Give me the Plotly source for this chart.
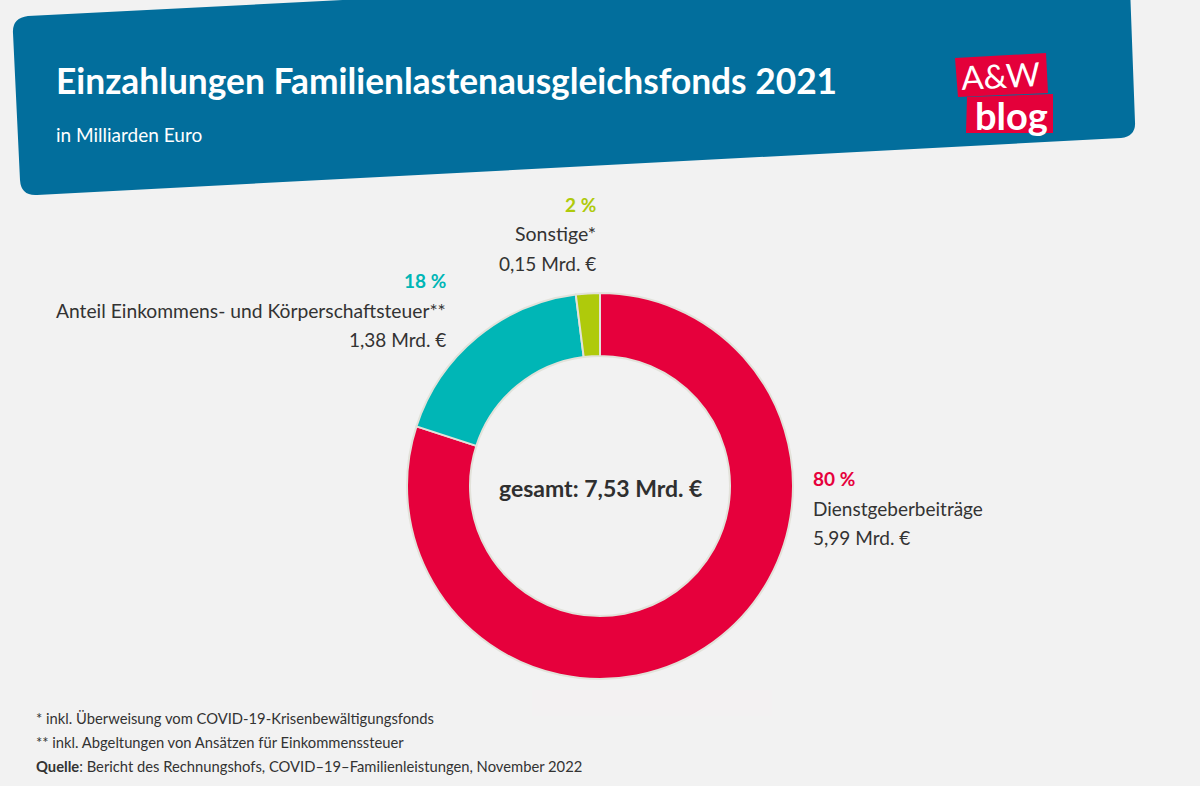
import plotly.graph_objects as go

W, H = 1200, 786
categories = ["Dienstgeberbeiträge", "Anteil Einkommens- und Körperschaftsteuer**", "Sonstige*"]
values = [80, 18, 2]
percent_labels = ["80 %", "18 %", "2 %"]
amount_labels = ["5,99 Mrd. €", "1,38 Mrd. €", "0,15 Mrd. €"]
colors = ["#e6003c", "#00b6b6", "#afca0b"]
title = "Einzahlungen Familienlastenausgleichsfonds 2021"
subtitle = "in Milliarden Euro"
center_text = "gesamt: 7,53 Mrd. €"
footnotes = ["* inkl. Überweisung vom COVID-19-Krisenbewältigungsfonds",
             "** inkl. Abgeltungen von Ansätzen für Einkommenssteuer",
             "<b>Quelle</b>: Bericht des Rechnungshofs, COVID–19–Familienleistungen, November 2022"]

FONT = "Lato"
DARK = "#333333"
BG = "#f2f2f2"
BLUE = "#026e9c"
RED = "#e4003a"

def X(p): return p / W
def Y(p): return 1 - p / H

fig = go.Figure()
fig.add_trace(go.Pie(
    labels=categories, values=values, sort=False, direction="clockwise", rotation=0,
    hole=130 / 193, textinfo="none", showlegend=False,
    marker=dict(colors=colors, line=dict(color="#e2e2da", width=2)),
    domain=dict(x=[X(407), X(793)], y=[Y(679), Y(293)]),
))

def pt(x, y):
    return f"{X(x):.5f},{Y(y):.5f}"

header = ("M" + pt(28, 16) + " L" + pt(1129, -40) + " L" + pt(1135, 122) +
          " Q" + pt(1136, 136) + " " + pt(1121, 138) +
          " L" + pt(37, 195) + " Q" + pt(21, 196) + " " + pt(20, 180) +
          " L" + pt(13, 33) + " Q" + pt(12, 18) + " " + pt(28, 16) + " Z")
shapes = [
    dict(type="path", xref="paper", yref="paper", path=header, fillcolor=BLUE, line_width=0, layer="below"),
    dict(type="path", xref="paper", yref="paper",
         path="M" + pt(955, 58) + " L" + pt(1046, 53) + " L" + pt(1048, 93) + " L" + pt(958, 97) + " Z",
         fillcolor=RED, line_width=0),
    dict(type="path", xref="paper", yref="paper",
         path="M" + pt(967, 97) + " L" + pt(1053, 94) + " L" + pt(1053, 133) + " L" + pt(966, 133) + " Z",
         fillcolor=RED, line_width=0),
    dict(type="rect", xref="paper", yref="paper", x0=X(532), x1=X(772), y0=Y(716), y1=Y(690),
         fillcolor="#f3f1f2", line_width=0, layer="below"),
]

def txt(x, y, text, size, color=DARK, anchor="left", bold=False, angle=0, family=FONT):
    s = f"<b>{text}</b>" if bold else text
    fig.add_annotation(x=X(x), y=Y(y), xref="paper", yref="paper", text=s, showarrow=False,
                       xanchor=anchor, yanchor="middle", align=anchor, textangle=angle,
                       font=dict(family=family, size=size, color=color),
                       borderpad=0, xshift=0)

txt(55, 80, title, 35.3, "white", bold=True)
txt(55, 134, subtitle, 19, "white")
txt(600, 488, center_text, 23, "#2f2f2f", "center", bold=True)

txt(812, 478, percent_labels[0], 19, colors[0], bold=True)
txt(812, 508, categories[0], 19)
txt(812, 537, amount_labels[0], 19)
txt(447, 280, percent_labels[1], 19, colors[1], "right", bold=True)
txt(447, 310, categories[1], 19.25, anchor="right")
txt(447, 339, amount_labels[1], 19, anchor="right")
txt(597, 204, percent_labels[2], 19, colors[2], "right", bold=True)
txt(597, 234, categories[2], 19.5, anchor="right")
txt(597, 263, amount_labels[2], 19, anchor="right")

for y, t in zip([718, 742, 766], footnotes):
    txt(35, y, t, 14.75)

txt(1001, 75, "A&amp;W", 33, "white", "center", angle=-3)
txt(1011, 115, "blog", 38, "white", "center", bold=True)

fig.update_layout(width=W, height=H, margin=dict(l=0, r=0, t=0, b=0), autosize=False,
                  paper_bgcolor=BG, plot_bgcolor=BG, shapes=shapes)
fig.write_html("out.html", config={"displayModeBar": False},
               post_script="document.body.style.margin='0';document.body.style.background='#f2f2f2';")
